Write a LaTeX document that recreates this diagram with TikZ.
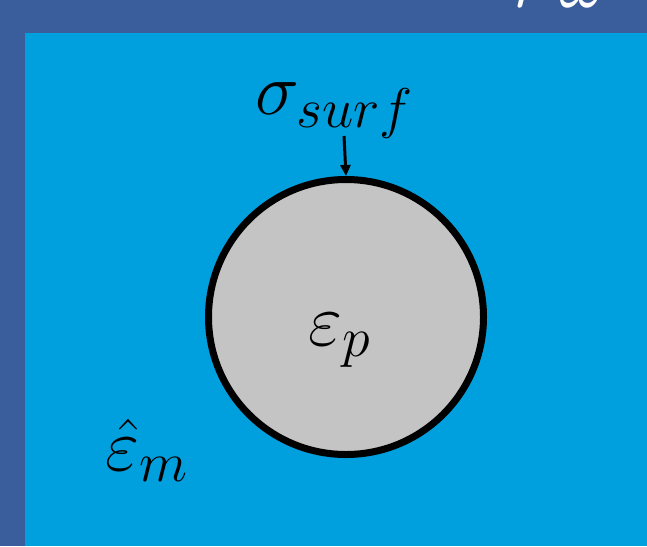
\RequirePackage{fix-cm}
\documentclass[tikz,border=0pt]{standalone}
\usetikzlibrary{arrows.meta}
\DeclareMathSizes{74}{74}{56}{44}
\definecolor{outerblue}{HTML}{3A5D9C}
\definecolor{innerblue}{HTML}{00A0DF}
\definecolor{particle}{HTML}{C4C4C4}
\tikzset{
  lbl/.style={font=\fontsize{74}{80}\selectfont, inner sep=0pt, text=black},
  ptr/.style={line width=3pt, -{Triangle[length=11pt,width=10pt]}},
}
\begin{document}
\begin{tikzpicture}[x=1pt,y=-1pt]
\useasboundingbox (0,0) rectangle (647,546);
\fill[outerblue] (0,0) rectangle (647,546);
\fill[innerblue] (25,33) rectangle (647,546);
\begin{scope}
\clip (0,0) rectangle (647,546);
\node[lbl, text=white, anchor=base west] (top) at (512,8) {$r\,\omega$};
\end{scope}
\node[circle, draw=black, line width=7pt, fill=particle, minimum size=275pt, inner sep=0pt] (p) at (346,317) {};
\node[lbl, anchor=base west] (ep) at (308,345) {$\varepsilon_p$};
\node[lbl, anchor=base west] (sig) at (255,114) {$\sigma_{surf}$};
\coordinate (ast) at (344,136);
\draw[ptr] (ast) -- (p.north);
\node[lbl, anchor=base west] (em) at (105,470) {$\hat{\varepsilon}_m$};
\end{tikzpicture}
\end{document}
